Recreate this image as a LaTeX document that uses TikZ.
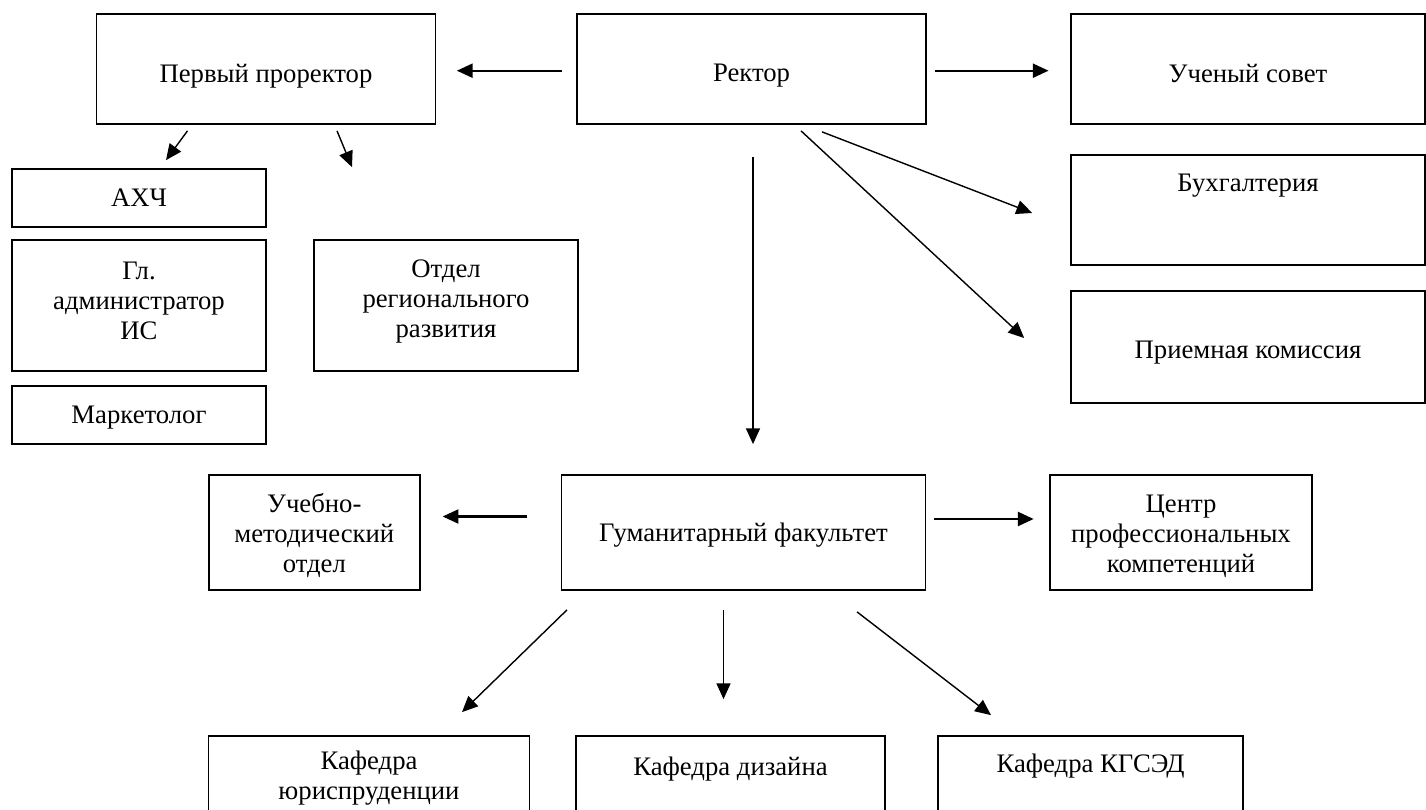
\documentclass[tikz,border=0pt]{standalone}
\usepackage{fontspec}
\setmainfont{Liberation Serif}
\usepackage{tikz}
\usetikzlibrary{arrows.meta,calc}
\tikzstyle{unit} = [draw, rectangle, line width=1pt, inner sep=0pt]
\tikzstyle{txt} = [align=center, inner sep=0pt, font=\fontsize{15.2}{17}\selectfont]
\tikzstyle{arr} = [line width=0.8pt, -{Triangle[length=9pt,width=8pt]}]
\tikzstyle{bold arr} = [arr, line width=1.2pt]

\begin{document}
\begin{tikzpicture}[x=0.02cm,y=-0.02cm]
\useasboundingbox (0,0) rectangle (1426,810);
\clip (0,0) rectangle (1426,810);

% top row
\node[unit, minimum width=6.78cm, minimum height=2.2cm,
  label={[txt, name=pptext, yshift=-4pt]center:Первый проректор}] (pp) at (266,69) {};
\node[unit, minimum width=6.98cm, minimum height=2.2cm,
  label={[txt, name=rectortext, yshift=-4pt]center:Ректор}] (rector) at (751.5,69) {};
\node[unit, minimum width=7.08cm, minimum height=2.2cm,
  label={[txt, name=counciltext, yshift=-2.3pt]center:Ученый совет}] (council) at (1248,69) {};

% under the first prorector
\node[unit, minimum width=5.08cm, minimum height=1.16cm,
  label={[txt, name=ahchtext]center:АХЧ}] (ahch) at (139,198) {};
\node[unit, minimum width=5.08cm, minimum height=2.62cm,
  label={[txt, name=gladtext, yshift=2.8pt]center:Гл.\\администратор\\ИС}] (glad) at (139,305.5) {};
\node[unit, minimum width=5.28cm, minimum height=2.62cm,
  label={[txt, name=regiontext, yshift=2.3pt]center:Отдел\\регионального\\развития}] (region) at (446,305.5) {};
\node[unit, minimum width=5.08cm, minimum height=1.16cm,
  label={[txt, name=markettext, yshift=-1.5pt]center:Маркетолог}] (market) at (139,415) {};

% right column
\node[unit, minimum width=7.08cm, minimum height=2.2cm,
  label={[txt, name=buhtext, yshift=14pt]center:Бухгалтерия}] (buh) at (1248,210) {};
\node[unit, minimum width=7.08cm, minimum height=2.24cm,
  label={[txt, name=priemtext, yshift=-3.4pt]center:Приемная комиссия}] (priem) at (1248,347) {};

% faculty row
\node[unit, minimum width=4.22cm, minimum height=2.3cm,
  label={[txt, name=umotext, yshift=-1.7pt]center:Учебно-\\методический\\отдел}] (umo) at (314.3,532.5) {};
\node[unit, minimum width=7.28cm, minimum height=2.3cm,
  label={[txt, name=gftext, yshift=-1.7pt]center:Гуманитарный факультет}] (gf) at (743.5,532.5) {};
\node[unit, minimum width=5.24cm, minimum height=2.3cm,
  label={[txt, name=cpktext, yshift=-2.3pt]center:Центр\\профессиональных\\компетенций}] (cpk) at (1181,532.5) {};

% chairs
\node[unit, minimum width=6.42cm, minimum height=2.2cm,
  label={[txt, name=kjtext, yshift=7.4pt]center:Кафедра\\юриспруденции}] (kj) at (369,791) {};
\node[unit, minimum width=6.18cm, minimum height=2.2cm,
  label={[txt, name=kdtext, yshift=12.5pt]center:Кафедра дизайна}] (kd) at (730.5,791) {};
\node[unit, minimum width=6.1cm, minimum height=2.2cm,
  label={[txt, name=kktext, yshift=14pt]center:Кафедра КГСЭД}] (kk) at (1090.5,791) {};

% arrows
\draw[bold arr] ($(rector.west)+(-14.4,1.7)$) -- ($(pp.east)+(20.5,1.7)$);
\draw[bold arr] ($(rector.east)+(8.5,1.7)$) -- ($(council.west)+(-21.6,1.7)$);
\draw[arr] ($(pp.south)+(-78.5,6)$) -- ($(ahch.north)+(27,-8)$);
\draw[arr] ($(pp.south)+(71,6)$) -- ($(region.north)+(-94,-72)$);
\draw[arr] ($(rector.south)+(70.5,7)$) -- ($(buh.west)+(-38,3)$);
\draw[arr] ($(rector.south)+(49.5,6)$) -- ($(priem.west)+(-46,-9)$);
\draw[arr] ($(rector.south)+(1.5,32)$) -- ($(gf.north)+(9.5,-30)$);
\draw[bold arr] ($(gf.west)+(-33.5,-16)$) -- ($(umo.east)+(22,-16)$);
\draw[bold arr] ($(gf.east)+(8,-13.5)$) -- ($(cpk.west)+(-15.5,-13.5)$);
\draw[arr] ($(gf.south)+(-176.5,19)$) -- ($(kj.north)+(93,-23)$);
\draw[arr] ($(gf.south)+(-20,19)$) -- ($(kd.north)+(-7,-36)$);
\draw[arr] ($(gf.south)+(113.5,21)$) -- ($(kk.north)+(-99.5,-20)$);
\end{tikzpicture}
\end{document}
